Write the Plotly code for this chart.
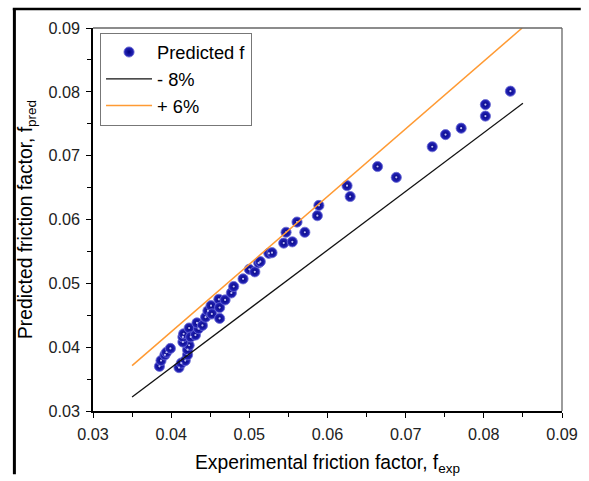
import plotly.graph_objects as go

# Experimental vs predicted friction factor
f_exp = [
    0.0385, 0.0387, 0.0392, 0.0394, 0.0399,
    0.0410, 0.0413, 0.0418, 0.0421, 0.0421, 0.0423,
    0.0415, 0.0415, 0.0416, 0.0423, 0.0425,
    0.0431, 0.0435, 0.0433, 0.0440, 0.0444, 0.0447, 0.0451, 0.0452,
    0.0461, 0.0462, 0.0462, 0.0469, 0.0477, 0.0480,
    0.0492, 0.0500, 0.0507, 0.0512, 0.0514, 0.0525, 0.0529,
    0.0544, 0.0547, 0.0555, 0.0561, 0.0571, 0.0587, 0.0589,
    0.0625, 0.0629, 0.0664, 0.0688, 0.0734, 0.0751, 0.0771,
    0.0802, 0.0802, 0.0834,
]
f_pred = [
    0.0370, 0.0379, 0.0388, 0.0392, 0.0398,
    0.0368, 0.0375, 0.0379, 0.0388, 0.0396, 0.0403,
    0.0408, 0.0416, 0.0421, 0.0430, 0.0416,
    0.0419, 0.0429, 0.0438, 0.0434, 0.0447, 0.0457, 0.0465, 0.0452,
    0.0475, 0.0462, 0.0445, 0.0474, 0.0485, 0.0495,
    0.0507, 0.0522, 0.0518, 0.0532, 0.0534, 0.0547, 0.0548,
    0.0563, 0.0580, 0.0565, 0.0596, 0.0580, 0.0606, 0.0622,
    0.0653, 0.0636, 0.0683, 0.0666, 0.0714, 0.0733, 0.0743,
    0.0762, 0.0780, 0.0801,
]

# error band lines
minus8_x = [0.035, 0.085]
minus8_y = [0.0322, 0.0782]
plus6_x = [0.035, 0.0849]
plus6_y = [0.0371, 0.0900]

tick_vals = [0.03, 0.04, 0.05, 0.06, 0.07, 0.08, 0.09]
tick_text = ["0.03", "0.04", "0.05", "0.06", "0.07", "0.08", "0.09"]

FONT = "Liberation Sans, Arial, sans-serif"

fig = go.Figure()

fig.add_trace(go.Scatter(
    x=f_exp, y=f_pred, mode="markers", name="Predicted f",
    marker=dict(size=10.2, color="#2a2ac0",
                gradient=dict(type="radial", color="#00007e"),
                line=dict(color="#6a6ad0", width=0.8)),
))
# small highlight on each sphere
fig.add_trace(go.Scatter(
    x=f_exp, y=f_pred, mode="markers", showlegend=False, hoverinfo="skip",
    marker=dict(size=2.2, color="#c0c0f4"),
))
fig.add_trace(go.Scatter(
    x=minus8_x, y=minus8_y, mode="lines", name="- 8%",
    line=dict(color="#111111", width=1.3),
))
fig.add_trace(go.Scatter(
    x=plus6_x, y=plus6_y, mode="lines", name="+ 6%",
    line=dict(color="#ff9a33", width=1.5),
))

axis_common = dict(
    range=[0.03, 0.09],
    tickvals=tick_vals, ticktext=tick_text,
    ticks="outside", ticklen=5, tickwidth=1.3, tickcolor="black",
    minor=dict(ticks="outside", ticklen=4, tickwidth=1.3, tickcolor="black", dtick=0.005),
    showline=True, linecolor="black", linewidth=1.6,
    showgrid=False, zeroline=False,
    tickfont=dict(size=16.2, color="#222222", family=FONT),
    ticklabeloverflow="allow",
)

fig.update_xaxes(
    **axis_common,
    ticklabelstandoff=3,
    title=dict(text="Experimental friction factor, f<sub>exp</sub>",
               font=dict(size=19.3, color="black", family=FONT), standoff=13),
)
fig.update_yaxes(
    **axis_common,
    ticklabelstandoff=3,
    title=dict(text="Predicted friction factor, f<sub>pred</sub>",
               font=dict(size=19.3, color="black", family=FONT), standoff=11),
)

# grey top/right frame and the outer black border of the picture
fig.add_shape(type="line", xref="paper", yref="paper", x0=0, x1=1, y0=1, y1=1,
              line=dict(color="#666666", width=1.3))
fig.add_shape(type="line", xref="paper", yref="paper", x0=1, x1=1, y0=0, y1=1,
              line=dict(color="#666666", width=1.3))
fig.add_shape(type="line", xref="paper", yref="paper", x0=-0.1676, x1=-0.1676, y0=-0.165, y1=1.051,
              line=dict(color="black", width=3))
fig.add_shape(type="line", xref="paper", yref="paper", x0=-0.171, x1=1.04, y0=1.0496, y1=1.0496,
              line=dict(color="black", width=2.5))

fig.update_layout(
    width=589, height=481,
    margin=dict(l=93, r=11, t=28, b=58),
    plot_bgcolor="white", paper_bgcolor="white",
    font=dict(family=FONT, color="black"),
    legend=dict(
        x=0.015, y=0.988, xanchor="left", yanchor="top",
        bgcolor="white", bordercolor="#777777", borderwidth=1,
        font=dict(size=18.3, family=FONT, color="black"),
        tracegroupgap=0, itemwidth=46,
    ),
    showlegend=True,
)

# drop the default page margin so the figure fills the window exactly
fig.write_html(
    "out.html",
    config={"displayModeBar": False},
    post_script="document.body.style.margin = '0'; document.documentElement.style.overflow = 'hidden';",
)
